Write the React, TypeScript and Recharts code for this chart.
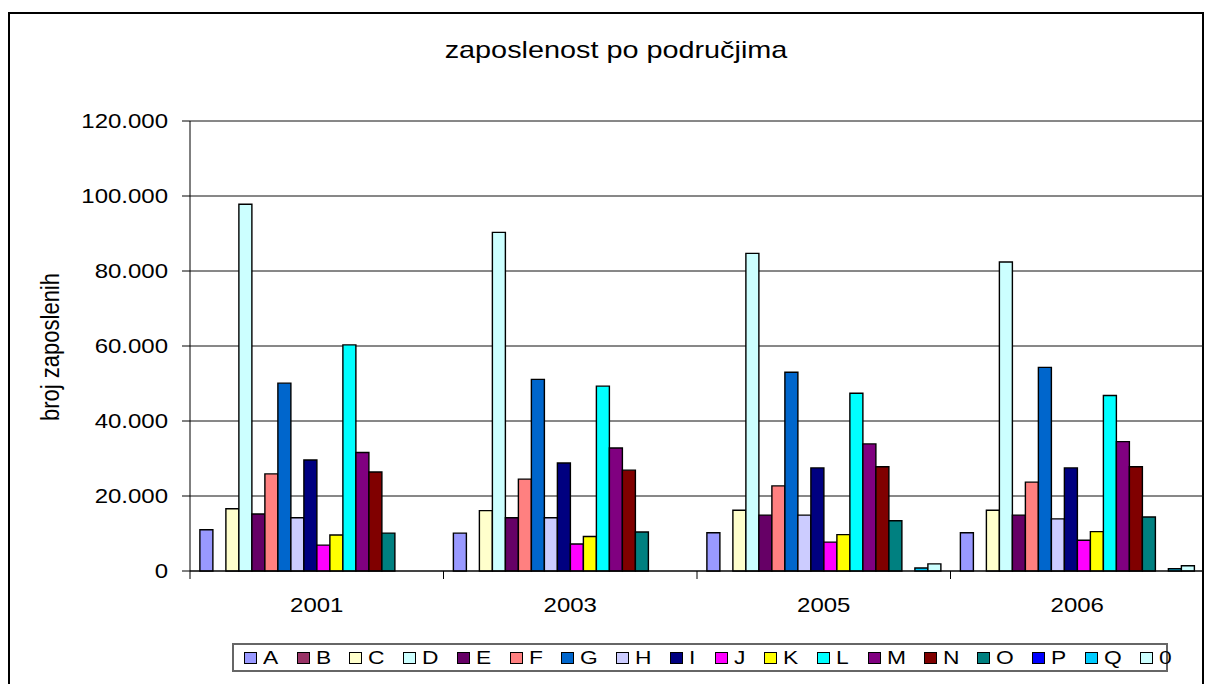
import { Bar, BarChart, CartesianGrid, XAxis, YAxis } from "recharts";

const years = ["2001", "2003", "2005", "2006"];
const sectors = ["A", "B", "C", "D", "E", "F", "G", "H", "I", "J", "K", "L", "M", "N", "O", "P", "Q", "0"];
const colors = [
  "#9999FF", "#993366", "#FFFFCC", "#CCFFFF", "#660066", "#FF8080",
  "#0066CC", "#CCCCFF", "#000080", "#FF00FF", "#FFFF00", "#00FFFF",
  "#800080", "#800000", "#008080", "#0000FF", "#00CCFF", "#CCFFFF",
];

// one array per sector, values for 2001, 2003, 2005, 2006
const sA = [11000, 10100, 10200, 10200];
const sB = [0, 0, 0, 0];
const sC = [16600, 16100, 16200, 16200];
const sD = [97800, 90300, 84700, 82400];
const sE = [15200, 14200, 14900, 14900];
const sF = [25900, 24500, 22700, 23700];
const sG = [50100, 51100, 53000, 54300];
const sH = [14200, 14200, 14900, 13900];
const sI = [29600, 28800, 27500, 27500];
const sJ = [6900, 7200, 7700, 8200];
const sK = [9600, 9200, 9700, 10500];
const sL = [60300, 49300, 47400, 46800];
const sM = [31600, 32800, 33900, 34500];
const sN = [26400, 26900, 27800, 27800];
const sO = [10100, 10400, 13400, 14400];
const sP = [0, 0, 0, 0];
const sQ = [0, 0, 800, 600];
const s0 = [0, 0, 1900, 1400];

const yTicks = [0, 20000, 40000, 60000, 80000, 100000, 120000];

const seriesValues = [sA, sB, sC, sD, sE, sF, sG, sH, sI, sJ, sK, sL, sM, sN, sO, sP, sQ, s0];

const rows = years.map((year, i) => {
  const row: Record<string, string | number> = { year };
  sectors.forEach((s, j) => {
    row["k" + s] = seriesValues[j][i];
  });
  return row;
});

const FONT = "'Liberation Sans', Arial, sans-serif";
const SX = 1.2;

function fmt(v: number) {
  return v === 0 ? "0" : v.toLocaleString("de-DE", { minimumFractionDigits: 0 });
}

function ValueTick(props: any) {
  const { x, y, payload } = props;
  return (
    <text
      transform={`translate(${x},${y + 7}) scale(${SX},1)`}
      textAnchor="end"
      fontSize={20}
      fontFamily={FONT}
      fill="#000"
    >
      {fmt(payload.value)}
    </text>
  );
}

function YearTick(props: any) {
  const { x, y, payload, index, visibleTicksCount } = props;
  const off = payload.offset ?? 0;
  return (
    <g>
      <line x1={x - off} x2={x - off} y1={y - 8} y2={y} stroke="#000" />
      {index === visibleTicksCount - 1 && (
        <line x1={x + off} x2={x + off} y1={y - 8} y2={y} stroke="#000" />
      )}
      <text
        transform={`translate(${x},${y + 33}) scale(${SX},1)`}
        textAnchor="middle"
        fontSize={20}
        fontFamily={FONT}
        fill="#000"
      >
        {payload.value}
      </text>
    </g>
  );
}

export default function App() {
  return (
    <div style={{ position: "relative", width: 1200, height: 676, fontFamily: FONT, background: "#fff" }}>
      <div
        style={{
          position: "absolute",
          left: 0,
          top: 4,
          width: 1196,
          height: 700,
          border: "2px solid #000",
          boxSizing: "border-box",
        }}
      />
      <div style={{ position: "absolute", left: 608, top: 42, width: 0, height: 0 }}>
        <span
          style={{
            position: "absolute",
            left: 0,
            top: 0,
            whiteSpace: "nowrap",
            fontSize: 24,
            lineHeight: "24px",
            transformOrigin: "0 0",
            transform: `scale(${SX},1) translate(-50%,-50%)`,
          }}
        >
          zaposlenost po područjima
        </span>
      </div>
      <div style={{ position: "absolute", left: 43, top: 339, width: 0, height: 0 }}>
        <span
          style={{
            position: "absolute",
            left: 0,
            top: 0,
            whiteSpace: "nowrap",
            fontSize: 22,
            lineHeight: "22px",
            transformOrigin: "0 0",
            transform: `scale(${SX},1) rotate(-90deg) translate(-50%,-50%)`,
          }}
        >
          broj zaposlenih
        </span>
      </div>
      <div style={{ position: "absolute", left: -0.5, top: -0.5 }}>
        <BarChart
          width={1200}
          height={676}
          data={rows}
          margin={{ top: 113, right: 4, bottom: 63, left: 0 }}
          barCategoryGap="3.9%"
          barGap={0}
        >
          <CartesianGrid vertical={false} stroke="#111" />
          <XAxis
            dataKey="year"
            height={50}
            interval={0}
            tickLine={false}
            tickSize={8}
            tickMargin={0}
            axisLine={{ stroke: "#000" }}
            tick={(p: any) => <YearTick {...p} />}
          />
          <YAxis
            width={182}
            domain={[0, 120000]}
            ticks={yTicks}
            interval={0}
            tickSize={8}
            tickMargin={14}
            tickLine={{ stroke: "#000" }}
            axisLine={{ stroke: "#000" }}
            tick={(p: any) => <ValueTick {...p} />}
          />
          {sectors.map((s, j) => (
            <Bar
              key={s}
              dataKey={"k" + s}
              name={s}
              fill={colors[j]}
              stroke="#000"
              strokeWidth={1.4}
              isAnimationActive={false}
            />
          ))}
        </BarChart>
      </div>
      <div
        style={{
          position: "absolute",
          left: 224,
          top: 635,
          width: 936,
          height: 29,
          border: "2px solid #666",
          boxSizing: "border-box",
          display: "flex",
          alignItems: "center",
          paddingLeft: 10,
          gap: 19,
        }}
      >
        {sectors.map((s, j) => (
          <div key={s} style={{ display: "flex", alignItems: "center" }}>
            <span
              style={{
                display: "inline-block",
                width: 13,
                height: 12,
                background: colors[j],
                border: "1.5px solid #000",
                boxSizing: "border-box",
                marginRight: 6,
              }}
            />
            <span
              style={{
                display: "inline-block",
                fontSize: 19,
                lineHeight: "20px",
                transformOrigin: "0 50%",
                transform: `scaleX(${SX})`,
                marginRight: 2,
              }}
            >
              {s}
            </span>
          </div>
        ))}
      </div>
    </div>
  );
}
